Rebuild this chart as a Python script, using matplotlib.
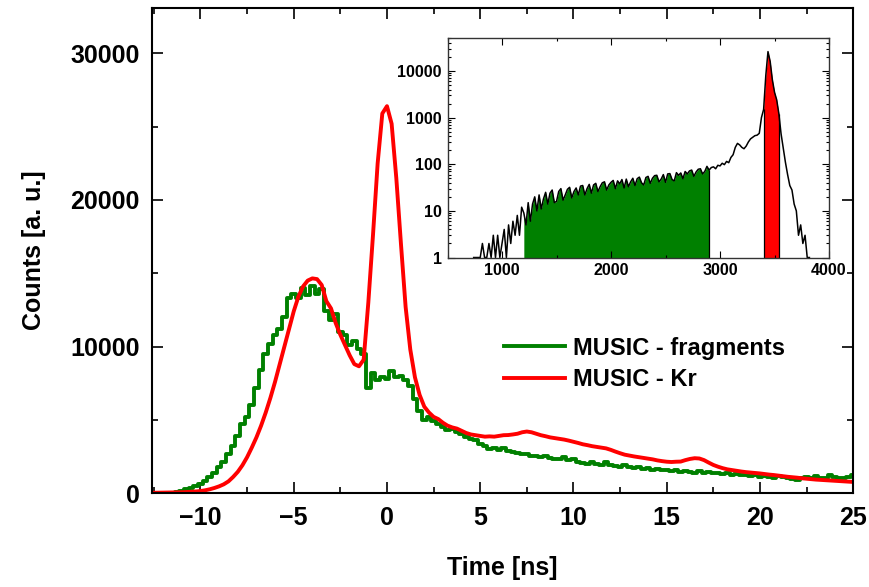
import numpy as np
import matplotlib
matplotlib.use('Agg')
import matplotlib.pyplot as plt
from matplotlib.ticker import MultipleLocator, LogLocator, NullFormatter

plt.rcParams['font.family'] = ['Liberation Sans', 'DejaVu Sans']
plt.rcParams['font.weight'] = 'bold'

# main histograms, 0.25 ns bins starting at -13 ns
t_start = -13.0
t_bin = 0.25

fragments = [
    0, 0, 0, 10,
    10, 20, 30, 50,
    150, 250, 350, 480,
    620, 800, 1100, 1400,
    1750, 2100, 2700, 3200,
    3900, 4700, 5200, 6000,
    7200, 8400, 9500, 10200,
    10800, 11200, 12000, 13300,
    13600, 13300, 14000, 13500,
    14100, 13600, 13900, 12400,
    11800, 12200, 11000, 10800,
    10100, 10400, 9800, 9500,
    7200, 8200, 7700, 7900,
    7800, 8300, 7900, 8000,
    7700, 7300, 6400, 5600,
    5000, 5200, 4900, 4700,
    4500, 4300, 4350, 4150,
    4000, 3850, 3700, 3600,
    3350, 3200, 3000, 3100,
    2950, 3050, 2900, 2800,
    2750, 2650, 2700, 2550,
    2500, 2450, 2550, 2400,
    2350, 2300, 2450, 2250,
    2300, 2150, 2050, 2000,
    2100, 2000, 1950, 2100,
    1900, 1850, 1800, 1900,
    1750, 1700, 1800, 1650,
    1700, 1600, 1650, 1550,
    1600, 1500, 1550, 1450,
    1500, 1450, 1400, 1500,
    1400, 1450, 1350, 1400,
    1300, 1350, 1250, 1300,
    1200, 1250, 1150, 1200,
    1100, 1150, 1100, 1050,
    1150, 1100, 1050, 950,
    900, 1000, 1100, 1050,
    1150, 1000, 1050, 1200,
    1100, 1050, 1000, 1100,
    1250,
]

krypton = [
    10, 15, 20, 20,
    30, 30, 40, 50,
    60, 70, 90, 110,
    140, 190, 260, 350,
    460, 600, 800, 1100,
    1450, 1900, 2450, 3100,
    3800, 4600, 5500, 6500,
    7600, 8800, 10000, 11200,
    12400, 13400, 14100, 14500,
    14650, 14600, 14200, 13100,
    12600, 11600, 10800, 10100,
    9400, 8800, 8650, 9100,
    13000, 17600, 22500, 25900,
    26400, 25200, 21500, 17000,
    12700, 9800, 7900, 6700,
    5900, 5500, 5200, 5050,
    4800, 4600, 4480, 4400,
    4250, 4100, 4000, 3950,
    3900, 3850, 3870, 3850,
    3900, 3950, 3960, 4000,
    4050, 4150, 4200, 4150,
    4050, 3950, 3880, 3800,
    3750, 3700, 3650, 3580,
    3500, 3420, 3330, 3270,
    3200, 3150, 3100, 3050,
    2950, 2830, 2720, 2620,
    2560, 2500, 2450, 2400,
    2350, 2300, 2230, 2180,
    2140, 2120, 2140, 2150,
    2250, 2330, 2380, 2360,
    2250, 2080, 1920, 1800,
    1700, 1620, 1570, 1520,
    1470, 1430, 1400, 1370,
    1340, 1300, 1260, 1230,
    1190, 1150, 1110, 1080,
    1050, 1010, 980, 950,
    920, 900, 880, 860,
    840, 820, 800, 780,
    760,
]

# inset spectrum, 20-channel steps starting at channel 740
ch_start = 740
ch_step = 20
spectrum = [
    1, 1, 1, 1, 2, 1, 1, 2, 1, 3,
    1, 3, 1, 2, 4, 1, 5, 2, 6, 3,
    8, 3, 12, 9, 5, 15, 6, 14, 20, 10,
    22, 11, 18, 25, 14, 24, 28, 15, 16, 26,
    30, 17, 22, 29, 32, 19, 26, 31, 22, 34,
    35, 22, 30, 37, 24, 36, 39, 26, 33, 40,
    42, 28, 36, 41, 45, 30, 44, 38, 47, 31,
    48, 33, 42, 50, 35, 49, 53, 40, 36, 52,
    55, 39, 50, 57, 58, 42, 48, 60, 41, 62,
    63, 47, 44, 66, 58, 65, 49, 70, 62, 72,
    75, 55, 68, 78, 80, 62, 70, 90, 75, 85,
    88, 80, 95, 92, 105, 98, 115, 108, 140, 160,
    230, 280, 260, 230, 215, 245, 300, 350, 380, 410,
    420, 460, 1000, 1500, 8000, 26000, 16000, 6500, 3500, 2400,
    1200, 450, 220, 110, 60, 35, 28, 14, 10, 3,
    5, 2, 3, 1, 1,
]
frag_gate = (1200, 2900)
kr_gate = (3400, 3540)

t = t_start + t_bin * np.arange(len(fragments))
ch = ch_start + ch_step * np.arange(len(spectrum))
spectrum = np.array(spectrum, dtype=float)

fig = plt.figure(figsize=(8.7, 5.87), dpi=100)
ax = fig.add_axes([0.1747, 0.160, 0.806, 0.8264])

ax.step(t, fragments, where='mid', color='#008000', lw=2.8, label='MUSIC - fragments')
ax.plot(t, krypton, color='#ff0000', lw=2.8, label='MUSIC - Kr')

ax.set_xlim(-12.6, 25)
ax.set_ylim(0, 33100)
ax.xaxis.set_major_locator(MultipleLocator(5))
ax.xaxis.set_minor_locator(MultipleLocator(2.5))
ax.yaxis.set_major_locator(MultipleLocator(10000))
ax.yaxis.set_minor_locator(MultipleLocator(5000))
ax.tick_params(which='both', direction='in', top=True, right=True, width=1.2)
ax.tick_params(which='major', length=8, labelsize=18, pad=9)
ax.tick_params(which='minor', length=4)
for s in ax.spines.values():
    s.set_linewidth(1.5)
ax.set_xlabel('Time [ns]', fontsize=18, fontweight='bold', labelpad=19)
ax.set_ylabel('Counts [a. u.]', fontsize=18, fontweight='bold', labelpad=17)

leg = ax.legend(loc='upper left', bbox_to_anchor=(0.488, 0.342), borderaxespad=0,
                frameon=False, fontsize=17, handlelength=2.6, handletextpad=0.35,
                labelspacing=0.36)

# inset
ins = fig.add_axes([0.5144, 0.5613, 0.4385, 0.3747])
ins.set_yscale('log')
m_frag = (ch >= frag_gate[0]) & (ch <= frag_gate[1])
m_kr = (ch >= kr_gate[0]) & (ch <= kr_gate[1])
ins.fill_between(ch[m_frag], 1, spectrum[m_frag], color='#008000', lw=0)
ins.fill_between(ch[m_kr], 1, spectrum[m_kr], color='#ff0000', lw=0)
ins.vlines([frag_gate[1]], 1, spectrum[ch == frag_gate[1]], color='black', lw=0.9)
ins.vlines(list(kr_gate), 1, [spectrum[ch == kr_gate[0]][0], spectrum[ch == kr_gate[1]][0]],
           color='black', lw=0.9)
ins.plot(ch, spectrum, color='black', lw=1.1)

ins.set_xlim(500, 4000)
ins.set_ylim(1, 52000)
ins.xaxis.set_major_locator(MultipleLocator(1000))
ins.xaxis.set_minor_locator(MultipleLocator(500))
ins.yaxis.set_major_locator(LogLocator(base=10, numticks=10))
ins.yaxis.set_minor_locator(LogLocator(base=10, subs=np.arange(2, 10), numticks=10))
ins.yaxis.set_minor_formatter(NullFormatter())
ins.yaxis.set_major_formatter(plt.FuncFormatter(lambda v, p: f'{v:.0f}'))
ins.tick_params(which='both', direction='in', top=True, right=True, width=0.8,
                labelsize=11.5, pad=4)
ins.tick_params(which='major', length=5)
ins.tick_params(which='minor', length=2.5)
for s in ins.spines.values():
    s.set_linewidth(1.0)
    s.set_color('#333333')

fig.savefig('out.png', dpi=100)
